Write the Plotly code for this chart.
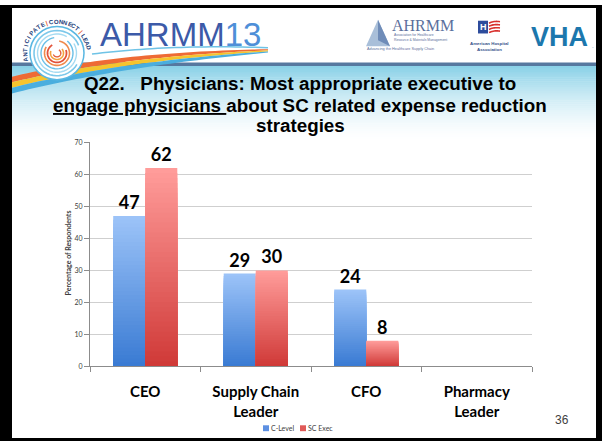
import math
import plotly.graph_objects as go

# ---- data -------------------------------------------------------------
categories = ["CEO", "Supply Chain<br>Leader", "CFO", "Pharmacy<br>Leader"]
c_level = [47, 29, 24, 0]
sc_exec = [62, 30, 8, 0]
series_names = ["C-Level", "SC Exec"]
y_ticks = [0, 10, 20, 30, 40, 50, 60, 70]

title_lines = [
    "Q22.   Physicians: Most appropriate executive to",
    "<u>engage physicians </u>about SC related expense reduction",
    "strategies",
]
page_number = "36"

# ---- page geometry helpers (pixel -> paper) ---------------------------
W, H = 602, 444


def px(x):
    return x / W


def py(y):
    return 1 - y / H


def hex2rgb(h):
    h = h.lstrip("#")
    return tuple(int(h[i:i + 2], 16) for i in (0, 2, 4))


def mix(c1, c2, t):
    a, b = hex2rgb(c1), hex2rgb(c2)
    return "rgb(%d,%d,%d)" % tuple(round(a[i] + (b[i] - a[i]) * t) for i in range(3))


def path(points, close=True):
    s = "M %.5f %.5f" % (px(points[0][0]), py(points[0][1]))
    for x, y in points[1:]:
        s += " L %.5f %.5f" % (px(x), py(y))
    return s + (" Z" if close else "")


def qbez(p0, p1, p2, s):
    return ((1 - s) ** 2 * p0[0] + 2 * (1 - s) * s * p1[0] + s * s * p2[0],
            (1 - s) ** 2 * p0[1] + 2 * (1 - s) * s * p1[1] + s * s * p2[1])


def arc(cx, cy, r, a0, a1, n=40):
    pts = []
    for k in range(n + 1):
        a = math.radians(a0 + (a1 - a0) * k / n)
        pts.append((cx + r * math.cos(a), cy - r * math.sin(a)))
    return pts


shapes = []
annotations = []


def note(x, y, text, font, xanchor="center", yanchor="middle", **kw):
    annotations.append(dict(x=px(x), y=py(y), xref="paper", yref="paper", showarrow=False,
                            text=text, font=font, xanchor=xanchor, yanchor=yanchor,
                            borderpad=0, **kw))


def rect(x0, y0, x1, y1, color, **kw):
    shapes.append(dict(type="rect", xref="paper", yref="paper", x0=px(x0), x1=px(x1),
                       y0=py(y1), y1=py(y0), fillcolor=color, line=dict(width=0), **kw))


fig = go.Figure()

# ---- gradient-filled bars: nested bars from light (top) to dark (bottom)
STEPS = 40
BAR_W = 0.29
series = [
    (c_level, series_names[0], "#9cc3f8", "#3a7bd3", -BAR_W),
    (sc_exec, series_names[1], "#ff9c9a", "#d03a38", 0.0),
]
for values, name, top_c, bot_c, off in series:
    for i in range(STEPS):
        frac = (STEPS - i) / STEPS
        fig.add_trace(go.Bar(
            x=categories,
            y=[v * frac for v in values],
            name=name,
            width=BAR_W,
            offset=off,
            marker=dict(color=mix(top_c, bot_c, i / (STEPS - 1)), line=dict(width=0)),
            text=[str(v) if v else "" for v in values] if i == 0 else None,
            textposition="outside" if i == 0 else "none",
            textfont=dict(family="Lato", size=18, color="black", weight="bold"),
            cliponaxis=False,
            showlegend=False,
            hoverinfo="skip",
        ))

# ---- slide background: header band + soft teal gradient ---------------
G0, G1, GN = 62, 140, 40
for k in range(GN):
    t = k / (GN - 1)
    rect(0, G0 + (G1 - G0) * k / GN, W, G0 + (G1 - G0) * (k + 1) / GN + 0.5,
         mix("#8ad1e7", "#ffffff", 1 - (1 - t) ** 1.6), layer="below")
rect(0, 58.5, W, 62, "#56789f")

# ---- conference logo: swoosh ------------------------------------------
top_curve = [(12, 73), (112, 48), (268, 45)]
bot_curve = [(12, 90), (122, 62), (268, 48.5)]
bands = [(0.0, 0.34, "#ee6a35"), (0.34, 0.66, "#f5c42e"), (0.66, 1.0, "#4aaede")]
for a, b, col in bands:
    upper, lower = [], []
    for k in range(41):
        s = k / 40
        tx, ty = qbez(*top_curve, s)
        bx, by = qbez(*bot_curve, s)
        upper.append((tx + (bx - tx) * a, ty + (by - ty) * a))
        lower.append((tx + (bx - tx) * b, ty + (by - ty) * b))
    shapes.append(dict(type="path", xref="paper", yref="paper",
                       path=path(upper + lower[::-1]), fillcolor=col, line=dict(width=0)))
thin = [qbez((92, 50), (170, 40), (268, 43.5), k / 30) for k in range(31)]
shapes.append(dict(type="path", xref="paper", yref="paper", path=path(thin, close=False),
                   line=dict(color="#6fc3e6", width=1.5)))

# ---- conference logo: ring with swirl ---------------------------------
CX, CY = 57, 49
shapes.append(dict(type="circle", xref="paper", yref="paper",
                   x0=px(CX - 27), x1=px(CX + 27), y0=py(CY + 27), y1=py(CY - 27),
                   fillcolor="white", line=dict(color="#59b7e2", width=1.5)))
for r, a0, a1, col, w in [(23, 20, 330, "#7cc8ea", 1.6), (19.5, 60, 390, "#a5dbf2", 1.4),
                          (16, 100, 410, "#6abfe6", 1.4), (12.5, 150, 440, "#f08a4c", 1.6),
                          (9.5, 120, 380, "#e2533a", 1.8), (6.5, 160, 400, "#f3a23c", 1.6),
                          (3.8, 200, 420, "#e5603c", 1.4)]:
    shapes.append(dict(type="path", xref="paper", yref="paper",
                       path=path(arc(CX, CY, r, a0, a1), close=False),
                       line=dict(color=col, width=w)))

ring_text = "ANTICIPATE|CONNECT|LEAD"
n_chars = len(ring_text)
for k, ch in enumerate(ring_text):
    theta = 195 - (195 - 5) * (k + 0.5) / n_chars
    rad = math.radians(theta)
    note(CX + 32 * math.cos(rad), CY - 32 * math.sin(rad), ch,
         dict(family="Liberation Sans", size=6, weight="bold",
              color="#e5532b" if ch == "|" else "#23407a"),
         textangle=90 - theta)

note(99, 30, "AHRMM<span style='color:#4e8fd8'>13</span>",
     dict(family="Liberation Sans", size=33, color="#3c5aa8"), xanchor="left")

# ---- partner logos ----------------------------------------------------
shapes.append(dict(type="path", xref="paper", yref="paper",
                   path=path([(366, 42), (378, 15), (390, 42)]),
                   fillcolor="#a9bfd9", line=dict(width=0)))
shapes.append(dict(type="path", xref="paper", yref="paper",
                   path=path([(378, 15), (390, 42), (378, 36)]),
                   fillcolor="#6f8cb8", line=dict(width=0)))
note(391, 21, "AHRMM", dict(family="Liberation Serif", size=16, color="#5b6f9c"),
     xanchor="left")
for txt, x, y, sz in [("Association for Healthcare", 393, 31, 3.4),
                      ("Resource & Materials Management", 393, 36, 3.4),
                      ("Advancing the Healthcare Supply Chain", 366, 45, 3.8)]:
    note(x, y, txt, dict(family="Liberation Sans", size=sz, color="#5b6f9c"), xanchor="left")

rect(478, 16, 488, 29, "#2d4c9c")
note(483, 22.8, "H", dict(family="Liberation Sans", size=9, weight="bold", color="white"))
for k in range(4):
    y0 = 17.5 + k * 3.2
    wave = [qbez((489, y0 + 1), (494, y0 - 1.5), (500, y0 - 0.5), s / 10) for s in range(11)]
    shapes.append(dict(type="path", xref="paper", yref="paper", path=path(wave, close=False),
                       line=dict(color="#d8312e", width=1.6)))
for txt, y in [("American Hospital", 39.5), ("Association", 45.5)]:
    note(489, y, txt, dict(family="Liberation Sans", size=4.4, weight="bold", color="#34508a"))

note(559, 33, "VHA", dict(family="Liberation Sans", size=27, weight="bold", color="#1c77ad"))
note(593, 42, ".", dict(family="Liberation Sans", size=6, color="#1c77ad"))

# ---- title --------------------------------------------------------------
for txt, y in zip(title_lines, [80, 102, 122.5]):
    note(300, y, txt, dict(family="Liberation Sans", size=18.8, weight="bold", color="black"))

# ---- axis title, legend, page number ----------------------------------
note(68, 253, "Percentage of Respondents",
     dict(family="Lato", size=7, weight="bold", color="#404040"), textangle=-90)

legend_items = [(series_names[0], "#5d90e2", 263), (series_names[1], "#e05a58", 300)]
for name, col, x in legend_items:
    rect(x, 428, x + 6, 434, col)
    note(x + 6.5, 431, name, dict(family="Lato", size=7, color="#404040"), xanchor="left")

note(562, 423, page_number, dict(family="Liberation Sans", size=12, color="#404040"))

# ---- slide frame --------------------------------------------------------
for x0, y0, x1, y1 in [(0, 0, 12, H), (596, 0, W, H), (0, 0, W, 3), (0, 441, W, H)]:
    rect(x0, y0, x1, y1, "black")

fig.update_layout(
    width=W, height=H,
    margin=dict(l=0, r=0, t=0, b=0),
    paper_bgcolor="white",
    plot_bgcolor="rgba(0,0,0,0)",
    barmode="overlay",
    showlegend=False,
    shapes=shapes,
    annotations=annotations,
    xaxis=dict(
        domain=[px(90), px(532)], type="category", range=[-0.5, 3.5],
        showline=True, linecolor="#8c8c8c", linewidth=1,
        ticks="outside", tickson="boundaries", ticklen=5, tickcolor="#8c8c8c",
        tickfont=dict(family="Lato", size=15, weight="bold", color="black"),
        ticklabelstandoff=12, showgrid=False, fixedrange=True,
    ),
    yaxis=dict(
        domain=[py(368), py(140)], range=[0, 70], tickvals=y_ticks,
        showline=True, linecolor="#8c8c8c", linewidth=1,
        ticks="outside", ticklen=5, tickcolor="#8c8c8c",
        tickfont=dict(family="Lato", size=7, color="#404040"),
        showgrid=True, gridcolor="#cfcfcf", gridwidth=1, zeroline=False, fixedrange=True,
    ),
)

fig.write_html("out.html")
